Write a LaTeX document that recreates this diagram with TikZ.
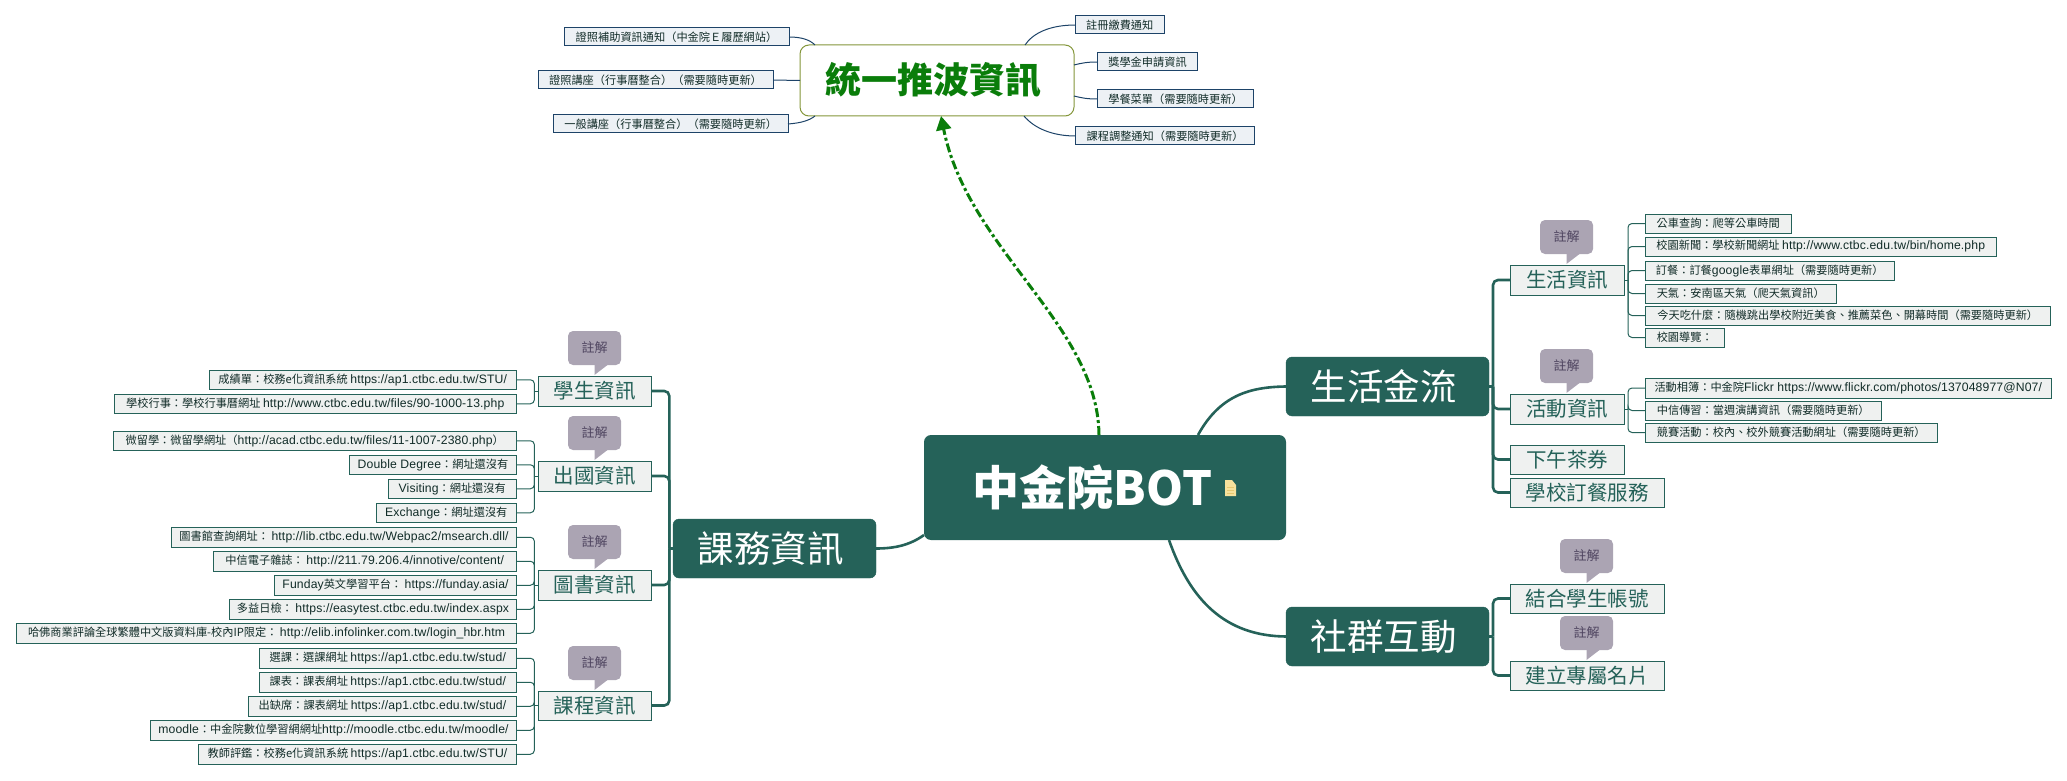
\documentclass[tikz,border=0pt]{standalone}
\usepackage{fontspec}
\setmainfont{Noto Sans CJK TC}
\newfontfamily\latf[Scale=1.09,LetterSpace=1]{Liberation Sans}
\newcommand\lat[1]{{\latf #1}}
\usetikzlibrary{arrows.meta,calc}
\definecolor{dk}{HTML}{256259}
\definecolor{navy}{HTML}{1D4368}
\definecolor{leaffill}{HTML}{EFF1F0}
\definecolor{topfill}{HTML}{EDF1F5}
\definecolor{notefill}{HTML}{ABA4B3}
\definecolor{notetext}{HTML}{4F4560}
\definecolor{grn}{HTML}{0A7D0A}
\definecolor{olive}{HTML}{84963A}
\definecolor{notepage}{HTML}{F7E19C}
\definecolor{notelines}{HTML}{E8C870}
\newcommand\bx[7]{\node[#1,minimum width={(#5-#3)*1pt},minimum height={(#6-#4)*1pt}] (#2) at ({(#3+#5)/2},{(#4+#6)/2}) {#7};}
\newcommand\nt[3]{\node[notebox] (#1) at (#2,#3) {註解};
  \fill[notefill] (#1.south) -- ++(0,10) -- ([xshift=13pt]#1.south) -- cycle;}
\tikzset{
  every node/.style={inner sep=0pt,outer sep=0pt},
  rootbox/.style={fill=dk,rounded corners=7pt,text=white,font=\fontsize{47}{50}\selectfont\bfseries},
  mainbox/.style={fill=dk,draw=dk,rounded corners=6pt,text=white,font=\fontsize{36.5}{40}\selectfont},
  subbox/.style={fill=leaffill,draw=dk,line width=1pt,text=dk,font=\fontsize{20.5}{24}\selectfont},
  leafbox/.style={fill=leaffill,draw=dk,line width=1pt,text=black!55!dk,font=\fontsize{11.2}{13}\selectfont},
  topleaf/.style={fill=topfill,draw=navy,line width=1pt,text=black!55!dk,font=\fontsize{11.2}{13}\selectfont},
  pushbox/.style={fill=white,draw=olive,line width=1pt,rounded corners=9pt,text=grn,font=\fontsize{36}{40}\selectfont\bfseries},
  notebox/.style={fill=notefill,rounded corners=5pt,text=notetext,minimum width=53pt,minimum height=34pt,font=\fontsize{13}{15}\selectfont},
  twig/.style={draw=dk,line width=1pt,rounded corners=4pt},
  navyline/.style={draw=navy,line width=1pt},
  trunk/.style={draw=dk,line width=2.6pt,rounded corners=5pt},
  limb/.style={draw=dk,line width=2.6pt},
  push/.style={draw=grn,line width=3pt,dash pattern=on 9pt off 3pt on 3pt off 3pt,-{Triangle[length=14pt,width=15pt]}},
}
\begin{document}
\begin{tikzpicture}[x=1pt,y=-1pt]
\useasboundingbox (0,0) rectangle (2067,781);

\bx{rootbox}{root}{924}{435}{1286}{540}{中金院BOT\kern25pt}
\bx{pushbox}{pushn}{800}{45}{1074}{116}{統一推波資訊\kern8pt}
\bx{mainbox}{life}{1286}{357}{1489}{416}{生活金流\kern8pt}
\bx{mainbox}{social}{1286}{607}{1489}{666}{社群互動\kern8pt}
\bx{mainbox}{course}{673}{519}{876}{578}{課務資訊\kern8pt}

% top leaves
\bx{topleaf}{tl1}{564}{28}{789}{46}{證照補助資訊通知（中金院Ｅ履歷網站）}
\bx{topleaf}{tl2}{538}{71}{773}{89}{證照講座（行事曆整合）（需要隨時更新）}
\bx{topleaf}{tl3}{553.5}{115}{788}{133}{一般講座（行事曆整合）（需要隨時更新）}
\bx{topleaf}{tr1}{1075.5}{16}{1164}{34}{註冊繳費通知}
\bx{topleaf}{tr2}{1097.5}{53}{1197.5}{71}{獎學金申請資訊}
\bx{topleaf}{tr3}{1097.5}{90}{1253.5}{108}{學餐菜單（需要隨時更新）}
\bx{topleaf}{tr4}{1075.5}{127}{1254.6}{145}{課程調整通知（需要隨時更新）}

% left sub topics
\bx{subbox}{xs}{538}{376}{651}{406}{學生資訊}
\bx{subbox}{cg}{538}{461}{651}{491}{出國資訊}
\bx{subbox}{ts}{538}{570}{651}{600}{圖書資訊}
\bx{subbox}{kc}{538}{691}{651}{720}{課程資訊}
\nt{nxs}{594.5}{348}
\nt{ncg}{594.5}{433}
\nt{nts}{594.5}{542}
\nt{nkc}{594.5}{663}

% left leaves
\bx{leafbox}{a1}{209}{370}{516.5}{389.5}{成績單：校務e化資訊系統 \lat{https://ap1.ctbc.edu.tw/STU/}}
\bx{leafbox}{a2}{114}{394}{516.5}{413.5}{學校行事：學校行事曆網址 \lat{http://www.ctbc.edu.tw/files/90-1000-13.php}}
\bx{leafbox}{b1}{113}{431}{516.5}{450.5}{微留學：微留學網址（\lat{http://acad.ctbc.edu.tw/files/11-1007-2380.php}）}
\bx{leafbox}{b2}{349.5}{455}{516.5}{474.5}{\lat{Double Degree}：網址還沒有}
\bx{leafbox}{b3}{388}{479}{516.5}{498.5}{\lat{Visiting}：網址還沒有}
\bx{leafbox}{b4}{376}{503}{516.5}{522.5}{\lat{Exchange}：網址還沒有}
\bx{leafbox}{c1}{171.5}{527.5}{516.5}{547}{圖書館查詢網址： \lat{http://lib.ctbc.edu.tw/Webpac2/msearch.dll/}}
\bx{leafbox}{c2}{213}{551.5}{516.5}{571}{中信電子雜誌： \lat{http://211.79.206.4/innotive/content/}}
\bx{leafbox}{c3}{274.5}{575.5}{516.5}{595}{\lat{Funday}英文學習平台： \lat{https://funday.asia/}}
\bx{leafbox}{c4}{229.5}{599.5}{516.5}{619}{多益日檢： \lat{https://easytest.ctbc.edu.tw/index.aspx}}
\bx{leafbox}{c5}{16.5}{623.5}{516.5}{643}{哈佛商業評論全球繁體中文版資料庫-校內IP限定： \lat{http://elib.infolinker.com.tw/login\_hbr.htm}}
\bx{leafbox}{d1}{259}{648.5}{516.5}{668}{選課：選課網址 \lat{https://ap1.ctbc.edu.tw/stud/}}
\bx{leafbox}{d2}{259}{672.5}{516.5}{692}{課表：課表網址 \lat{https://ap1.ctbc.edu.tw/stud/}}
\bx{leafbox}{d3}{248.5}{696.5}{516.5}{716}{出缺席：課表網址 \lat{https://ap1.ctbc.edu.tw/stud/}}
\bx{leafbox}{d4}{150.5}{720.5}{516.5}{740}{\lat{moodle}：中金院數位學習網網址\lat{http://moodle.ctbc.edu.tw/moodle/}}
\bx{leafbox}{d5}{198.5}{744.5}{516.5}{764}{教師評鑑：校務e化資訊系統 \lat{https://ap1.ctbc.edu.tw/STU/}}

% right sub topics
\bx{subbox}{sh}{1510}{265}{1624}{295}{生活資訊}
\bx{subbox}{hd}{1510}{394}{1624}{424}{活動資訊}
\bx{subbox}{tea}{1510}{445}{1624}{474}{下午茶券}
\bx{subbox}{meal}{1510}{478}{1664}{507}{學校訂餐服務}
\bx{subbox}{acc}{1510}{584}{1664}{613}{結合學生帳號}
\bx{subbox}{card}{1510}{661}{1664}{690}{建立專屬名片}
\nt{nsh}{1566.5}{237}
\nt{nhd}{1566.5}{366}
\nt{nacc}{1586.5}{556}
\nt{ncard}{1586.5}{633}

% right leaves
\bx{leafbox}{e1}{1645.5}{214}{1791}{233}{公車查詢：爬等公車時間}
\bx{leafbox}{e2}{1645.5}{237}{1996}{256}{校園新聞：學校新聞網址 \lat{http://www.ctbc.edu.tw/bin/home.php}}
\bx{leafbox}{e3}{1645.5}{261}{1894}{280}{訂餐：訂餐\lat{google}表單網址（需要隨時更新）}
\bx{leafbox}{e4}{1645.5}{284}{1836}{303}{天氣：安南區天氣（爬天氣資訊）}
\bx{leafbox}{e5}{1645.5}{306}{2050}{325}{今天吃什麼：隨機跳出學校附近美食、推薦菜色、開幕時間（需要隨時更新）}
\bx{leafbox}{e6}{1645.5}{328}{1724}{347}{校園導覽：}
\bx{leafbox}{f1}{1645.5}{378}{2051}{398}{活動相簿：中金院\lat{Flickr https://www.flickr.com/photos/137048977@N07/}}
\bx{leafbox}{f2}{1645.5}{401}{1881}{420}{中信傳習：當週演講資訊（需要隨時更新）}
\bx{leafbox}{f3}{1645.5}{423}{1937}{442}{競賽活動：校內、校外競賽活動網址（需要隨時更新）}

% note icon
\fill[notepage] (1225,480) -- (1232,480) -- (1236,485) -- (1236,496) -- (1225,496) -- cycle;
\draw[notelines,line width=.6pt] (1227,487) -- (1234,487) (1227,490) -- (1234,490) (1227,493) -- (1234,493);

% root connectors
\draw[limb] ([xshift=-88pt]root.north east) .. controls (1220,395) and (1250,387) .. (life.west);
\draw[limb] ([xshift=-117pt]root.south east) .. controls (1190,600) and (1225,636) .. (social.west);
\draw[limb] ([yshift=5pt]root.south west) .. controls (910,545) and (895,548.5) .. (course.east);
\draw[push] ([xshift=-6pt]root.north) .. controls (1098,325) and (968,250) .. ([xshift=4pt]pushn.south);

% top connectors
\draw[navyline] (tl1.east) .. controls (802,37) and (810,40) .. ([xshift=15pt]pushn.north west);
\draw[navyline] (tl2.east) -- (pushn.west);
\draw[navyline] (tl3.east) .. controls (802,123) and (810,120) .. ([xshift=15pt]pushn.south west);
\draw[navyline] (tr1.west) .. controls (1050,25) and (1033,33) .. ([xshift=-49pt]pushn.north east);
\draw[navyline] (tr2.west) .. controls (1087,62) and (1082,63) .. ([yshift=-20pt]pushn.north east);
\draw[navyline] (tr3.west) .. controls (1087,99) and (1082,98) .. ([yshift=20pt]pushn.south east);
\draw[navyline] (tr4.west) .. controls (1052,136) and (1034,128) .. ([xshift=-50pt]pushn.south east);

% main trunks
\coordinate (jc) at ($(course.west)+(-3.7,0)$);
\coordinate (jl) at ($(life.east)+(4,0)$);
\coordinate (js) at ($(social.east)+(4,0)$);
\foreach \c in {xs,cg,ts,kc} \draw[trunk] (\c.east) -| (jc);
\draw[limb] (jc) -- (course.west);
\foreach \c in {sh,hd,tea,meal} \draw[trunk] (\c.west) -| (jl);
\draw[limb] (jl) -- (life.east);
\foreach \c in {acc,card} \draw[trunk] (\c.west) -| (js);
\draw[limb] (js) -- (social.east);

% twigs
\foreach \p/\ls in {xs/{a1,a2},cg/{b1,b2,b3,b4},ts/{c1,c2,c3,c4,c5},kc/{d1,d2,d3,d4,d5}}{
  \coordinate (j) at ($(\p.west)+(-3.6,0)$);
  \draw[twig] (j) -- (\p.west);
  \foreach \l in \ls \draw[twig] (\l.east) -| (j);
}
\foreach \p/\ls in {sh/{e1,e2,e3,e4,e5,e6},hd/{f1,f2,f3}}{
  \coordinate (j) at ($(\p.east)+(4,0)$);
  \draw[twig] (j) -- (\p.east);
  \foreach \l in \ls \draw[twig] (\l.west) -| (j);
}
\end{tikzpicture}
\end{document}
